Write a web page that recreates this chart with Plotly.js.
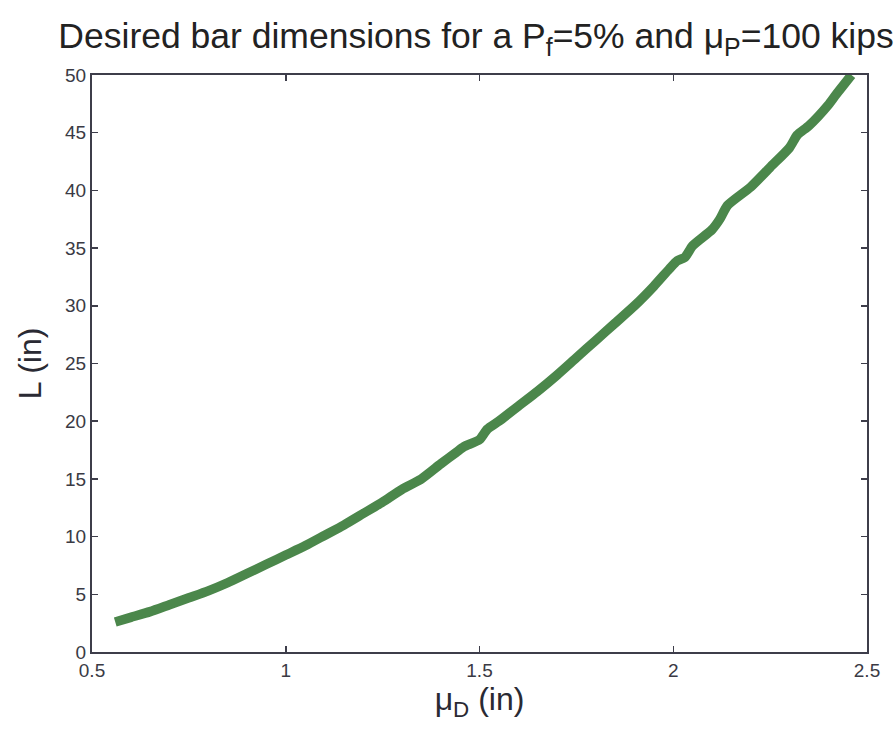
<!DOCTYPE html>
<html>
<head>
<meta charset="utf-8">
<script src="https://cdn.plot.ly/plotly-3.0.1.min.js"></script>
<style>html,body{margin:0;padding:0;background:#fff;}#chart{width:895px;height:740px;}</style>
</head>
<body>
<div id="chart"></div>
<script>
const diameter = [0.56,0.60,0.65,0.70,0.75,0.80,0.85,0.90,0.95,1.00,1.05,1.10,1.15,1.20,1.25,1.30,1.35,1.40,1.44,1.46,1.50,1.52,1.55,1.60,1.65,1.70,1.75,1.80,1.85,1.90,1.95,1.99,2.01,2.03,2.05,2.10,2.12,2.14,2.20,2.25,2.30,2.32,2.35,2.40,2.42,2.46];
const length = [2.6,3.0,3.5,4.1,4.7,5.3,6.0,6.8,7.6,8.4,9.2,10.1,11.0,12.0,13.0,14.1,15.0,16.3,17.3,17.8,18.4,19.3,20.0,21.3,22.6,24.0,25.5,27.0,28.5,30.0,31.7,33.2,33.9,34.2,35.2,36.6,37.5,38.7,40.3,42.0,43.7,44.8,45.6,47.4,48.3,50.0];
const xTicks = [0.5,1,1.5,2,2.5];
const xTickText = ['0.5','1','1.5','2','2.5'];
const yTicks = [0,5,10,15,20,25,30,35,40,45,50];

const axisColor = '#3d3d4a';
const fam = 'Liberation Sans, Arial, sans-serif';
const tickFont = {family: fam, size: 19, color: '#3a3a44'};

Plotly.newPlot('chart', [{
  x: diameter, y: length, type: 'scatter', mode: 'lines',
  line: {color: '#4b874b', width: 9.5, shape: 'spline', smoothing: 0.6},
  hoverinfo: 'skip'
}], {
  width: 895, height: 740,
  paper_bgcolor: '#ffffff', plot_bgcolor: '#ffffff',
  margin: {l: 92, r: 28, t: 75, b: 88},
  showlegend: false,
  title: {
    text: 'Desired bar dimensions for a P<sub>f</sub>=5% and μ<sub>P</sub>=100 kips',
    font: {family: fam, size: 35.5, color: '#222222'},
    x: 476/895, xanchor: 'center', xref: 'container', y: 1 - 36/740, yanchor: 'middle', yref: 'container'
  },
  xaxis: {
    range: [0.5, 2.5], tickvals: xTicks, ticktext: xTickText,
    ticks: 'inside', ticklen: 6, tickwidth: 1.5, tickcolor: axisColor,
    showline: true, linecolor: axisColor, linewidth: 2, mirror: 'ticks',
    showgrid: false, zeroline: false, tickfont: tickFont,
    title: {text: 'μ<sub>D</sub> (in)', font: {family: fam, size: 32, color: '#2a2a33'}, standoff: 8}
  },
  yaxis: {
    range: [0, 50], tickvals: yTicks,
    ticks: 'inside', ticklen: 6, tickwidth: 1.5, tickcolor: axisColor,
    showline: true, linecolor: axisColor, linewidth: 2, mirror: 'ticks',
    showgrid: false, zeroline: false, tickfont: tickFont,
    title: {text: 'L (in)', font: {family: fam, size: 32, color: '#2a2a33'}, standoff: 14}
  }
}, {staticPlot: true});
</script>
</body>
</html>
